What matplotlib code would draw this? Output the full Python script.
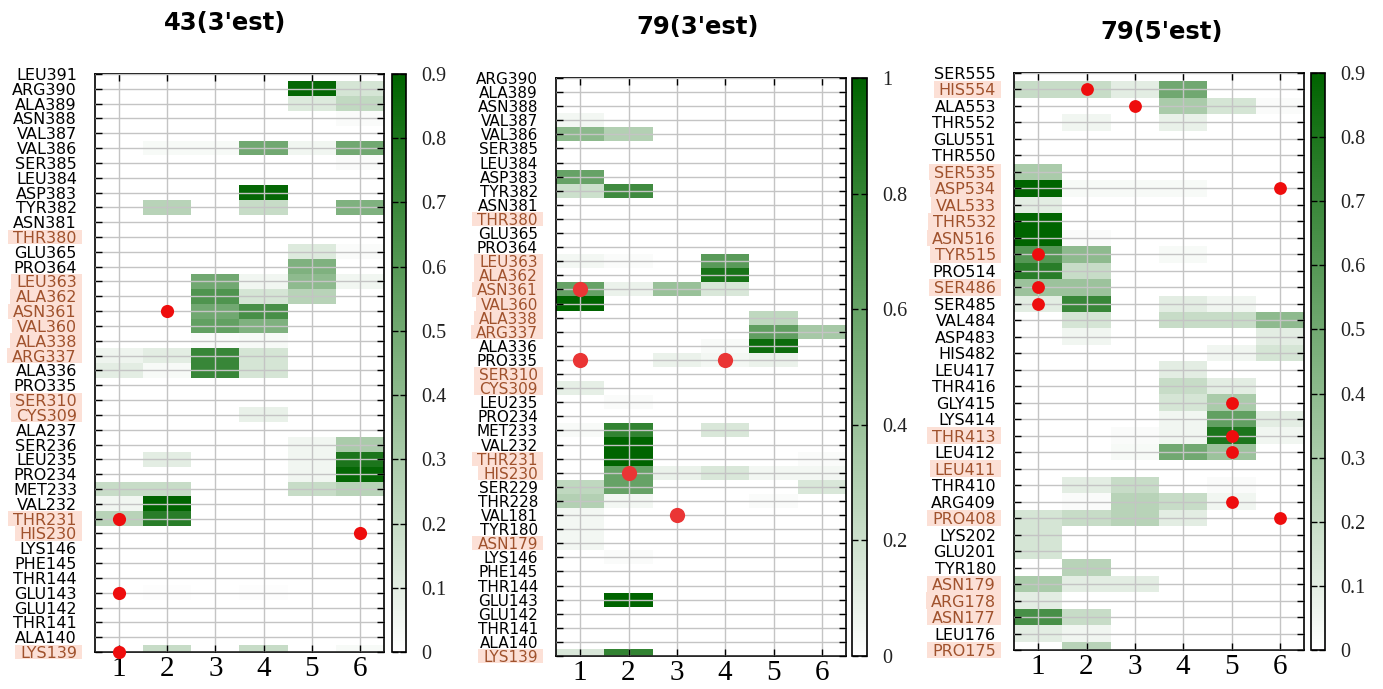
import numpy as np
import matplotlib
matplotlib.use('Agg')
import matplotlib.pyplot as plt
from matplotlib.colors import LinearSegmentedColormap
from matplotlib.patches import Rectangle


# ---- panel 1: 43(3'est) ----
labels_a = ['LEU391', 'ARG390', 'ALA389', 'ASN388', 'VAL387', 'VAL386', 'SER385',
            'LEU384', 'ASP383', 'TYR382', 'ASN381', 'THR380', 'GLU365', 'PRO364',
            'LEU363', 'ALA362', 'ASN361', 'VAL360', 'ALA338', 'ARG337', 'ALA336',
            'PRO335', 'SER310', 'CYS309', 'ALA237', 'SER236', 'LEU235', 'PRO234',
            'MET233', 'VAL232', 'THR231', 'HIS230', 'LYS146', 'PHE145', 'THR144',
            'GLU143', 'GLU142', 'THR141', 'ALA140', 'LYS139']
values_a = [
    [0, 0, 0, 0, 0, 0],
    [0, 0, 0, 0, 0.88, 0.15],
    [0, 0, 0, 0, 0.12, 0.22],
    [0, 0, 0, 0, 0, 0.02],
    [0, 0, 0, 0, 0, 0],
    [0, 0.03, 0.03, 0.5, 0.05, 0.5],
    [0, 0, 0, 0, 0, 0.02],
    [0, 0, 0, 0, 0, 0],
    [0, 0, 0, 0.88, 0, 0],
    [0, 0.25, 0, 0.2, 0, 0.45],
    [0, 0, 0, 0, 0, 0],
    [0, 0, 0, 0, 0, 0],
    [0, 0, 0, 0, 0.12, 0.02],
    [0, 0, 0, 0, 0.45, 0],
    [0, 0, 0.5, 0.05, 0.4, 0.05],
    [0, 0, 0.62, 0.15, 0.25, 0],
    [0, 0, 0.5, 0.65, 0, 0],
    [0, 0, 0.55, 0.45, 0, 0],
    [0, 0, 0.02, 0.03, 0, 0],
    [0.06, 0.1, 0.7, 0.15, 0, 0],
    [0.1, 0.03, 0.7, 0.15, 0, 0],
    [0, 0, 0, 0, 0, 0],
    [0, 0, 0, 0, 0, 0],
    [0, 0, 0, 0.08, 0, 0],
    [0, 0, 0, 0, 0, 0],
    [0, 0, 0, 0, 0.05, 0.3],
    [0, 0.1, 0, 0, 0.05, 0.8],
    [0, 0, 0, 0, 0.05, 0.88],
    [0.2, 0.2, 0, 0, 0.2, 0.25],
    [0.05, 0.9, 0, 0, 0, 0],
    [0.25, 0.75, 0, 0, 0, 0],
    [0, 0, 0, 0, 0, 0],
    [0, 0, 0, 0, 0, 0],
    [0, 0, 0, 0, 0, 0],
    [0, 0, 0, 0, 0, 0],
    [0, 0.01, 0, 0.01, 0, 0],
    [0, 0, 0, 0, 0, 0],
    [0, 0, 0, 0, 0, 0],
    [0, 0, 0, 0, 0, 0],
    [0, 0.2, 0, 0.2, 0, 0.03],
]
highlight_a = ['THR380', 'LEU363', 'ALA362', 'ASN361', 'VAL360', 'ALA338', 'ARG337',
               'SER310', 'CYS309', 'THR231', 'HIS230', 'LYS139']
dots_a = [(2, 'ASN361'), (1, 'THR231'), (6, 'HIS230'), (1, 'GLU143'), (1, 'LYS139')]

# ---- panel 2: 79(3'est) ----
labels_b = ['ARG390', 'ALA389', 'ASN388', 'VAL387', 'VAL386', 'SER385', 'LEU384',
            'ASP383', 'TYR382', 'ASN381', 'THR380', 'GLU365', 'PRO364', 'LEU363',
            'ALA362', 'ASN361', 'VAL360', 'ALA338', 'ARG337', 'ALA336', 'PRO335',
            'SER310', 'CYS309', 'LEU235', 'PRO234', 'MET233', 'VAL232', 'THR231',
            'HIS230', 'SER229', 'THR228', 'VAL181', 'TYR180', 'ASN179', 'LYS146',
            'PHE145', 'THR144', 'GLU143', 'GLU142', 'THR141', 'ALA140', 'LYS139']
values_b = [
    [0, 0, 0, 0, 0, 0],
    [0, 0, 0, 0, 0, 0],
    [0, 0, 0, 0, 0, 0],
    [0.05, 0, 0, 0, 0, 0],
    [0.45, 0.3, 0, 0, 0, 0],
    [0, 0, 0, 0, 0, 0],
    [0, 0, 0, 0, 0, 0],
    [0.6, 0, 0, 0, 0, 0],
    [0.2, 0.75, 0, 0, 0, 0],
    [0, 0, 0, 0, 0, 0],
    [0, 0, 0, 0, 0, 0],
    [0, 0, 0, 0, 0, 0],
    [0, 0, 0, 0, 0, 0],
    [0.05, 0.02, 0, 0.65, 0, 0],
    [0, 0, 0, 0.9, 0, 0],
    [0.6, 0.08, 0.4, 0.15, 0, 0],
    [1.0, 0, 0, 0, 0, 0],
    [0, 0, 0, 0, 0.25, 0],
    [0, 0, 0, 0, 0.62, 0.35],
    [0, 0, 0, 0.03, 0.95, 0],
    [0, 0, 0.08, 0.05, 0.08, 0],
    [0, 0, 0, 0, 0, 0],
    [0.1, 0, 0, 0, 0, 0],
    [0, 0.02, 0, 0, 0, 0],
    [0, 0, 0, 0, 0, 0],
    [0.03, 0.8, 0, 0.15, 0, 0],
    [0, 1.0, 0, 0, 0, 0],
    [0, 1.0, 0, 0, 0, 0.02],
    [0, 0.6, 0.08, 0.15, 0.05, 0.05],
    [0.25, 0.6, 0, 0, 0, 0.15],
    [0.3, 0.05, 0, 0, 0.02, 0],
    [0.05, 0, 0, 0, 0, 0],
    [0.05, 0, 0, 0, 0, 0],
    [0.05, 0, 0, 0, 0, 0],
    [0, 0.02, 0, 0, 0, 0],
    [0, 0, 0, 0, 0, 0],
    [0, 0, 0, 0, 0, 0],
    [0, 1.0, 0, 0, 0, 0],
    [0, 0, 0, 0, 0, 0],
    [0, 0, 0, 0, 0, 0],
    [0, 0, 0, 0, 0, 0],
    [0.15, 0.8, 0, 0, 0, 0],
]
highlight_b = ['THR380', 'LEU363', 'ALA362', 'ASN361', 'VAL360', 'ALA338', 'ARG337',
               'SER310', 'CYS309', 'THR231', 'HIS230', 'ASN179', 'LYS139']
dots_b = [(1, 'ASN361'), (1, 'PRO335'), (4, 'PRO335'), (2, 'HIS230'), (3, 'VAL181')]

# ---- panel 3: 79(5'est) ----
labels_c = ['SER555', 'HIS554', 'ALA553', 'THR552', 'GLU551', 'THR550', 'SER535',
            'ASP534', 'VAL533', 'THR532', 'ASN516', 'TYR515', 'PRO514', 'SER486',
            'SER485', 'VAL484', 'ASP483', 'HIS482', 'LEU417', 'THR416', 'GLY415',
            'LYS414', 'THR413', 'LEU412', 'LEU411', 'THR410', 'ARG409', 'PRO408',
            'LYS202', 'GLU201', 'TYR180', 'ASN179', 'ARG178', 'ASN177', 'LEU176',
            'PRO175']
values_c = [
    [0, 0, 0, 0, 0, 0],
    [0.2, 0.2, 0.1, 0.5, 0, 0],
    [0, 0, 0, 0.3, 0.15, 0.02],
    [0, 0.05, 0, 0.08, 0, 0],
    [0, 0, 0, 0, 0, 0],
    [0, 0, 0, 0, 0, 0],
    [0.3, 0, 0, 0, 0, 0],
    [0.9, 0.03, 0.03, 0.03, 0, 0],
    [0.1, 0, 0, 0, 0, 0],
    [0.9, 0, 0, 0, 0, 0],
    [0.9, 0.02, 0, 0, 0, 0],
    [0.6, 0.4, 0, 0.03, 0, 0],
    [0.75, 0.2, 0, 0, 0, 0],
    [0.35, 0.35, 0, 0, 0, 0],
    [0.1, 0.7, 0, 0.1, 0.05, 0],
    [0, 0.15, 0, 0.2, 0.2, 0.4],
    [0, 0.05, 0, 0, 0, 0.1],
    [0, 0, 0, 0, 0.05, 0.15],
    [0, 0, 0, 0.1, 0, 0],
    [0, 0, 0, 0.2, 0.1, 0],
    [0, 0, 0, 0.15, 0.3, 0],
    [0, 0, 0, 0.05, 0.55, 0.1],
    [0, 0, 0.02, 0.05, 0.8, 0.05],
    [0, 0, 0.03, 0.5, 0.35, 0],
    [0, 0, 0, 0, 0, 0],
    [0, 0.1, 0.2, 0, 0.02, 0],
    [0, 0.02, 0.25, 0.2, 0.05, 0],
    [0.15, 0.2, 0.25, 0.1, 0, 0],
    [0.15, 0, 0, 0, 0, 0],
    [0.15, 0, 0, 0, 0, 0],
    [0, 0.25, 0, 0, 0, 0],
    [0.3, 0.1, 0.1, 0, 0, 0],
    [0.1, 0, 0, 0, 0, 0],
    [0.65, 0.2, 0, 0, 0, 0],
    [0.1, 0.05, 0, 0, 0, 0],
    [0, 0.25, 0, 0, 0, 0],
]
highlight_c = ['HIS554', 'SER535', 'ASP534', 'VAL533', 'THR532', 'ASN516', 'TYR515',
               'SER486', 'THR413', 'LEU411', 'PRO408', 'ASN179', 'ARG178', 'ASN177',
               'PRO175']
dots_c = [(2, 'HIS554'), (3, 'ALA553'), (6, 'ASP534'), (1, 'TYR515'), (1, 'SER486'),
          (1, 'SER485'), (5, 'GLY415'), (5, 'THR413'), (5, 'LEU412'), (5, 'ARG409'),
          (6, 'PRO408')]

titles = ["43(3'est)", "79(3'est)", "79(5'est)"]
vmaxes = [0.9, 1.0, 0.9]
cbar_ticks = [np.arange(0, 0.91, 0.1), np.arange(0, 1.01, 0.2), np.arange(0, 0.91, 0.1)]
columns = [1, 2, 3, 4, 5, 6]

W, H = 1383, 689
fig = plt.figure(figsize=(W / 100, H / 100), dpi=100)

cmap = LinearSegmentedColormap.from_list('wg', ['#ffffff', '#006400'])
hl_text = '#a0522d'
hl_back = '#fce0d6'


def px_box(x0, x1, ytop, ybot):
    return [x0 / W, 1 - ybot / H, (x1 - x0) / W, (ybot - ytop) / H]


# pixel boxes for axes and colorbars (left, right, top, bottom)
ax_boxes = [(95, 384, 74, 652), (556, 846, 78, 656), (1014, 1304, 73, 650)]
cb_boxes = [(391.5, 405.5, 74, 652), (852, 866.5, 78, 656), (1311, 1325, 73, 650)]
title_pos = [(225, 23), (698, 27), (1162, 32)]
label_sizes = [11.5, 11, 11.5]
dot_sizes = [90, 120, 85]
dot_colors = ['#ee0d0d', '#ea3535', '#ee0d0d']

panels = [(labels_a, values_a, highlight_a, dots_a),
          (labels_b, values_b, highlight_b, dots_b),
          (labels_c, values_c, highlight_c, dots_c)]

axes = []
for k, (labels, values, hl, dots) in enumerate(panels):
    n = len(labels)
    ax = fig.add_axes(px_box(*ax_boxes[k]))
    cax = fig.add_axes(px_box(*cb_boxes[k]))
    im = ax.imshow(np.array(values), cmap=cmap, vmin=0, vmax=vmaxes[k],
                   aspect='auto', interpolation='nearest',
                   extent=[0.5, 6.5, n - 0.5, -0.5], zorder=0)
    ax.set_xlim(0.5, 6.5)
    ax.set_ylim(n - 1, 0)
    ax.set_xticks(columns)
    ax.set_xticklabels([str(c) for c in columns], family='Liberation Serif', fontsize=21)
    ax.set_yticks(range(n))
    ax.set_yticklabels(labels, fontsize=label_sizes[k])
    for lab in ax.get_yticklabels():
        if lab.get_text() in hl:
            lab.set_color(hl_text)
    ax.set_axisbelow(False)
    ax.grid(True, color='#c4c4c4', lw=1.0)
    ax.tick_params(axis='both', direction='in', length=5, width=1,
                   top=True, right=True, color='black')
    ax.tick_params(axis='y', pad=13)
    ax.tick_params(axis='x', pad=3)
    for sp in ax.spines.values():
        sp.set_linewidth(1.2)

    xs = [c for c, _ in dots]
    ys = [labels.index(name) for _, name in dots]
    ax.scatter(xs, ys, s=dot_sizes[k], color=dot_colors[k], zorder=5,
               clip_on=False, linewidths=0)

    cb = fig.colorbar(im, cax=cax, ticks=cbar_ticks[k])
    cb.ax.set_yticklabels([f'{t:g}' for t in cbar_ticks[k]],
                          family='Liberation Serif', fontsize=14.5, color='#222222')
    cb.ax.tick_params(direction='in', length=4, width=1, left=True, right=True, pad=11)
    cb.outline.set_linewidth(1.2)

    fig.text(title_pos[k][0] / W, 1 - title_pos[k][1] / H, titles[k],
             ha='center', va='center', fontsize=17.5, fontweight='bold')
    axes.append((ax, labels, hl))

# shaded boxes behind highlighted residue labels
fig.canvas.draw()
renderer = fig.canvas.get_renderer()
inv = fig.transFigure.inverted()
for ax, labels, hl in axes:
    for i, lab in enumerate(ax.get_yticklabels()):
        if lab.get_text() not in hl:
            continue
        bb = lab.get_window_extent(renderer)
        y_top = ax.transData.transform((0, i - 0.5))[1]
        y_bot = ax.transData.transform((0, i + 0.5))[1]
        (fx0, fy0) = inv.transform((bb.x0 - 5, y_bot))
        (fx1, fy1) = inv.transform((bb.x1 + 5, y_top))
        fig.add_artist(Rectangle((fx0, fy0), fx1 - fx0, fy1 - fy0,
                                 transform=fig.transFigure, facecolor=hl_back,
                                 edgecolor='none', zorder=-1))

fig.savefig('out.png', dpi=100)
